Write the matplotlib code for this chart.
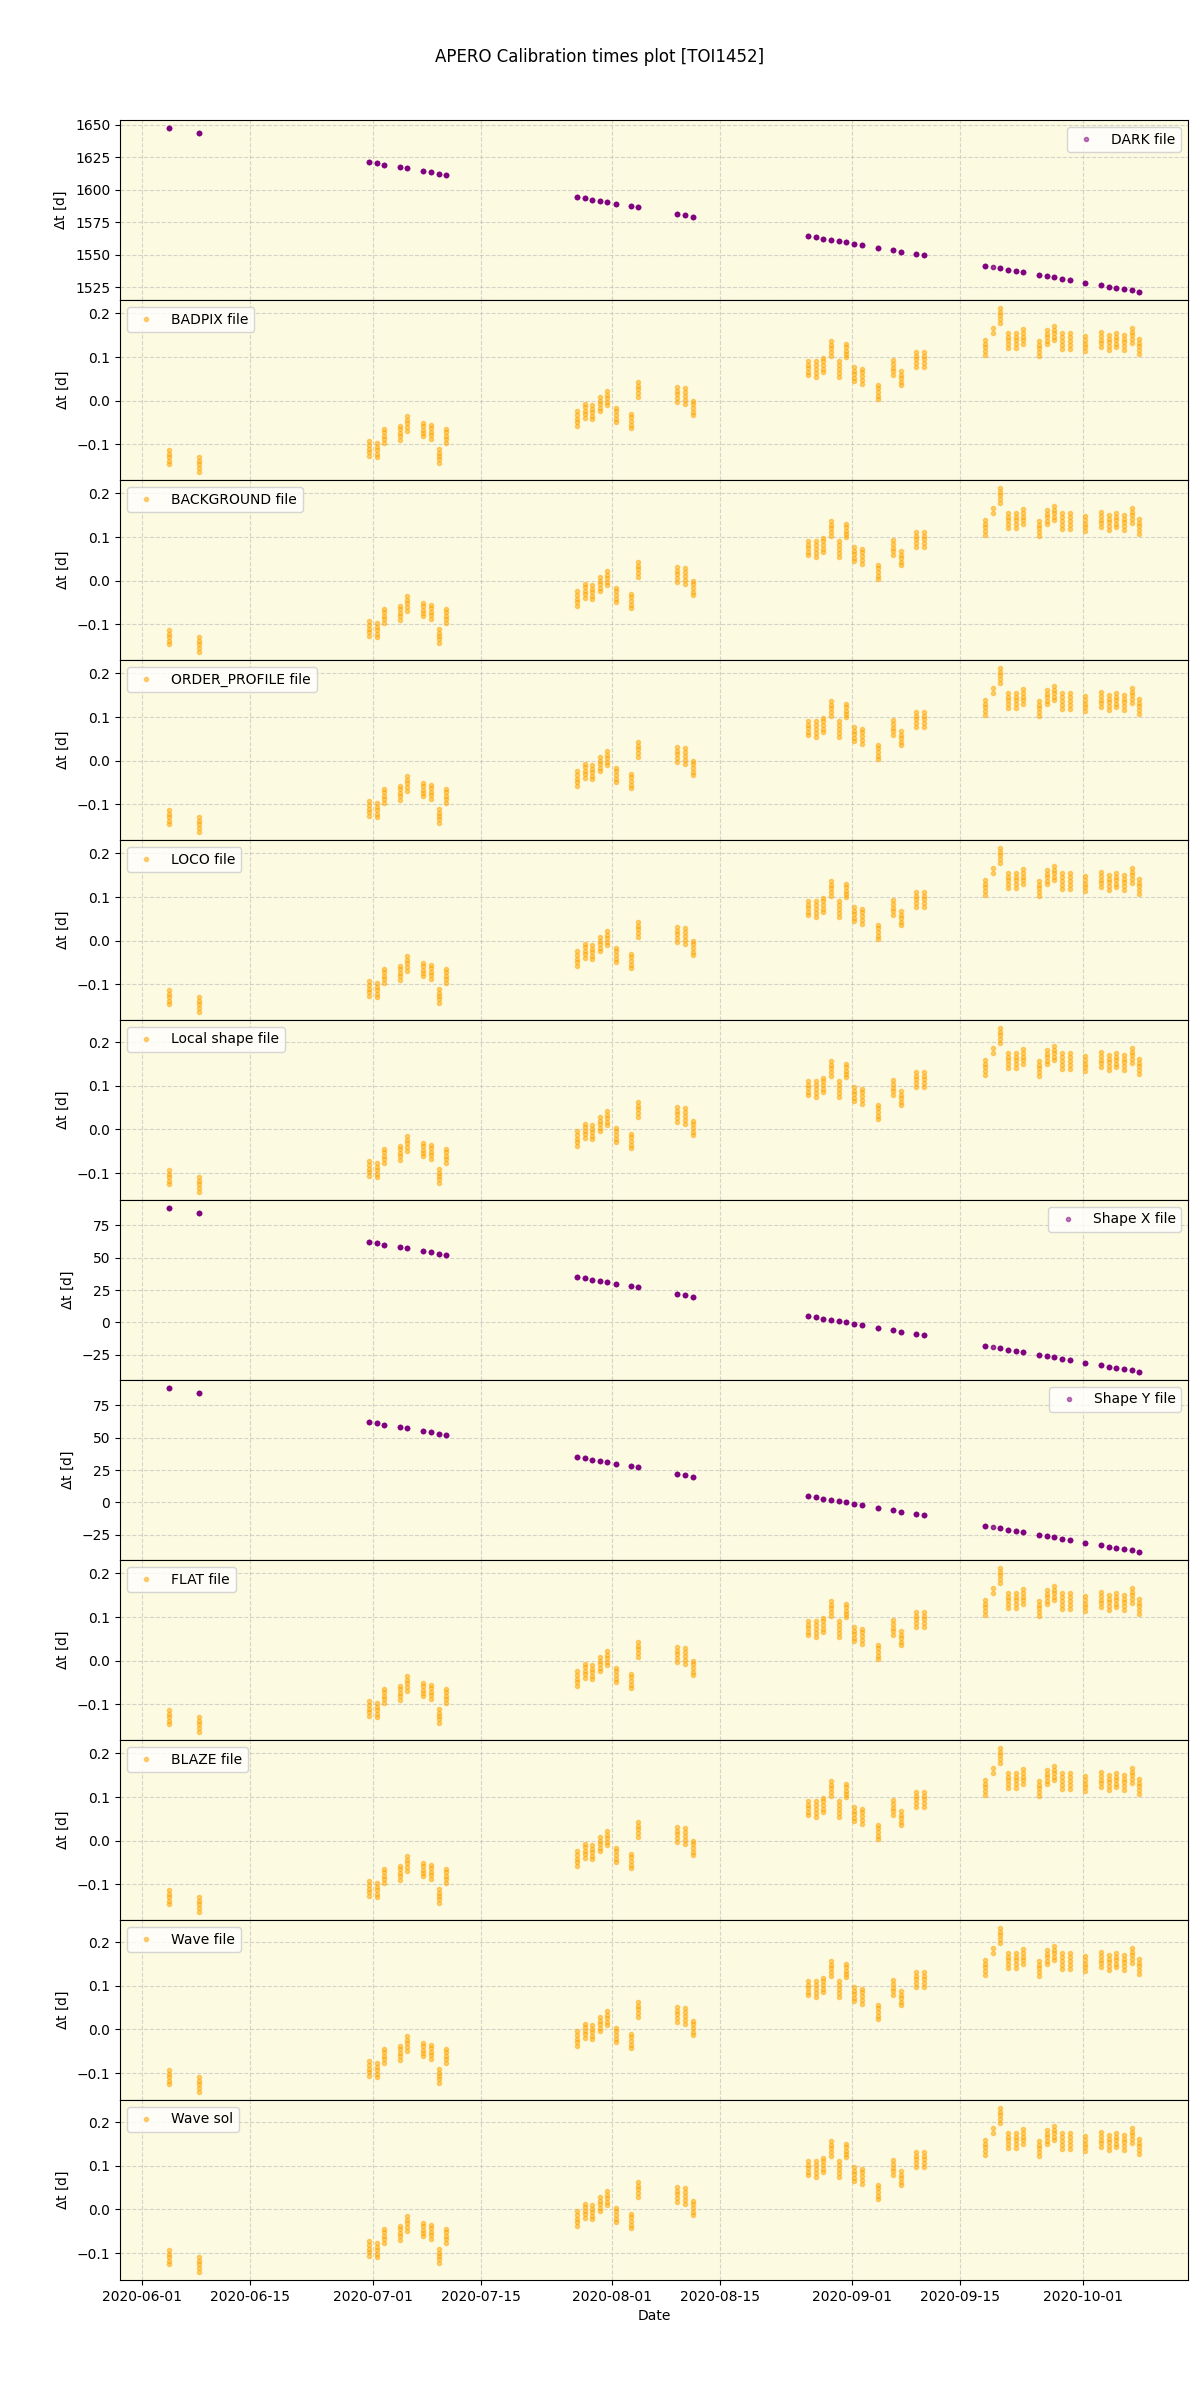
import pandas as pd
import matplotlib
matplotlib.use("Agg")
import matplotlib.pyplot as plt

# observing nights (UTC of the observations)
night_times = [
    "2020-06-04 11:45", "2020-06-08 12:00",
    "2020-06-30 10:20", "2020-07-01 11:15", "2020-07-02 10:05", "2020-07-04 10:50",
    "2020-07-05 08:40", "2020-07-07 10:20", "2020-07-08 11:15", "2020-07-09 12:00",
    "2020-07-10 09:50",
    "2020-07-27 09:35", "2020-07-28 10:50", "2020-07-29 08:25", "2020-07-30 09:35",
    "2020-07-31 08:25", "2020-08-01 11:15", "2020-08-03 09:35", "2020-08-04 07:40",
    "2020-08-09 09:10", "2020-08-10 09:35", "2020-08-11 10:50",
    "2020-08-26 08:55", "2020-08-27 07:55", "2020-08-28 07:25", "2020-08-29 06:30",
    "2020-08-30 09:20", "2020-08-31 07:10", "2020-09-01 07:55", "2020-09-02 08:55",
    "2020-09-04 10:50", "2020-09-06 09:35", "2020-09-07 10:20", "2020-09-09 09:35",
    "2020-09-10 07:55",
    "2020-09-18 07:55", "2020-09-19 08:40", "2020-09-20 06:30", "2020-09-21 07:10",
    "2020-09-22 08:10", "2020-09-23 06:00", "2020-09-25 07:55", "2020-09-26 08:55",
    "2020-09-27 06:30", "2020-09-28 07:25", "2020-09-29 08:25", "2020-10-01 07:10",
    "2020-10-03 08:55", "2020-10-04 07:55", "2020-10-05 07:40", "2020-10-06 08:25",
    "2020-10-07 07:25", "2020-10-08 07:10",
]

# dt to the (old) DARK file, one value per night
dark_dt = [
    1647.4, 1643.6,
    1621.3, 1620.5, 1619.0, 1617.5, 1616.7, 1614.4, 1613.6, 1612.1, 1611.3,
    1594.4, 1593.7, 1592.1, 1591.4, 1590.6, 1589.1, 1587.5, 1586.7, 1581.4, 1580.6, 1579.1,
    1564.5, 1563.7, 1562.2, 1561.4, 1560.6, 1559.9, 1558.3, 1557.5, 1555.2, 1553.7, 1552.2,
    1550.6, 1549.9,
    1541.4, 1540.6, 1539.9, 1538.3, 1537.6, 1536.8, 1534.5, 1533.7, 1532.9, 1531.4, 1530.6,
    1528.3, 1526.8, 1525.3, 1524.5, 1523.7, 1523.0, 1521.4,
]

# dt to the shape X / Y reference files, one value per night
shape_dt = [
    88.0, 84.2,
    62.0, 61.2, 59.7, 58.2, 57.4, 55.1, 54.3, 52.8, 52.0,
    35.2, 34.4, 32.8, 32.0, 31.3, 29.7, 28.2, 27.4, 22.1, 21.3, 19.7,
    5.1, 4.3, 2.8, 2.0, 1.2, 0.5, -1.1, -1.9, -4.2, -5.7, -7.2, -8.8, -9.5,
    -18.0, -18.8, -19.5, -21.1, -21.8, -22.6, -24.9, -25.7, -26.5, -28.0, -28.8,
    -31.1, -32.6, -34.1, -34.9, -35.7, -36.4, -38.0,
]

# dt of every observation to the nightly calibration (BADPIX, BACKGROUND, ...)
night_dt = [
    [-0.114, -0.122, -0.130, -0.138, -0.146],
    [-0.130, -0.138, -0.146, -0.155, -0.163],
    [-0.093, -0.101, -0.110, -0.118, -0.126],
    [-0.096, -0.105, -0.113, -0.122, -0.130],
    [-0.064, -0.072, -0.080, -0.088, -0.096],
    [-0.058, -0.066, -0.074, -0.081, -0.089],
    [-0.035, -0.044, -0.052, -0.061, -0.069],
    [-0.051, -0.059, -0.067, -0.074, -0.082],
    [-0.055, -0.063, -0.071, -0.079, -0.087],
    [-0.111, -0.119, -0.127, -0.134, -0.142],
    [-0.064, -0.072, -0.080, -0.088, -0.096],
    [-0.023, -0.032, -0.041, -0.049, -0.058],
    [-0.007, -0.015, -0.023, -0.031, -0.039],
    [-0.010, -0.018, -0.026, -0.034, -0.042],
    [0.008, 0.000, -0.008, -0.016, -0.024],
    [0.022, 0.014, 0.006, -0.003, -0.011],
    [-0.016, -0.024, -0.032, -0.041, -0.049],
    [-0.030, -0.038, -0.046, -0.055, -0.063],
    [0.043, 0.034, 0.026, 0.017, 0.008],
    [0.031, 0.023, 0.015, 0.006, -0.002],
    [0.029, 0.020, 0.011, 0.002, -0.007],
    [0.000, -0.008, -0.017, -0.025, -0.033],
    [0.090, 0.082, 0.074, 0.066, 0.058],
    [0.090, 0.081, 0.073, 0.064, 0.055],
    [0.098, 0.090, 0.082, 0.073, 0.065],
    [0.136, 0.128, 0.120, 0.111, 0.103],
    [0.090, 0.081, 0.073, 0.064, 0.055],
    [0.131, 0.123, 0.115, 0.107, 0.099],
    [0.077, 0.069, 0.061, 0.052, 0.044],
    [0.073, 0.065, 0.056, 0.048, 0.039],
    [0.036, 0.028, 0.020, 0.011, 0.003],
    [0.093, 0.084, 0.076, 0.067, 0.058],
    [0.068, 0.060, 0.052, 0.043, 0.035],
    [0.111, 0.103, 0.095, 0.086, 0.078],
    [0.111, 0.103, 0.095, 0.086, 0.078],
    [0.139, 0.131, 0.122, 0.114, 0.105],
    [0.166, 0.155],
    [0.212, 0.204, 0.196, 0.187, 0.179],
    [0.154, 0.146, 0.138, 0.129, 0.121],
    [0.154, 0.146, 0.138, 0.129, 0.121],
    [0.164, 0.155, 0.146, 0.138, 0.129],
    [0.136, 0.128, 0.120, 0.111, 0.103],
    [0.161, 0.153, 0.145, 0.137, 0.129],
    [0.171, 0.163, 0.154, 0.146, 0.138],
    [0.154, 0.145, 0.136, 0.128, 0.119],
    [0.154, 0.145, 0.136, 0.128, 0.119],
    [0.148, 0.140, 0.131, 0.123, 0.114],
    [0.157, 0.149, 0.140, 0.132, 0.124],
    [0.150, 0.142, 0.134, 0.125, 0.117],
    [0.155, 0.147, 0.138, 0.130, 0.122],
    [0.150, 0.142, 0.134, 0.125, 0.117],
    [0.166, 0.158, 0.150, 0.141, 0.133],
    [0.141, 0.133, 0.125, 0.116, 0.108],
]

# local shape / wave files were made a bit later in the night
local_offset = 0.02

panel_labels = ["DARK file", "BADPIX file", "BACKGROUND file", "ORDER_PROFILE file",
                "LOCO file", "Local shape file", "Shape X file", "Shape Y file",
                "FLAT file", "BLAZE file", "Wave file", "Wave sol"]
panel_kind = ["dark", "night", "night", "night", "night", "local", "shape", "shape",
              "night", "night", "local", "local"]

times = pd.to_datetime(night_times)

fig, axes = plt.subplots(12, 1, figsize=(12, 24), dpi=100, sharex=True)
fig.subplots_adjust(left=0.1, right=0.99, top=0.95, bottom=0.05, hspace=0)

for ax, label, kind in zip(axes, panel_labels, panel_kind):
    x = []
    y = []
    for i, t in enumerate(times):
        for v in night_dt[i]:
            x.append(t)
            if kind == "dark":
                y.append(dark_dt[i])
            elif kind == "shape":
                y.append(shape_dt[i])
            elif kind == "local":
                y.append(v + local_offset)
            else:
                y.append(v)
    if kind in ("dark", "shape"):
        color = "purple"
        loc = "upper right"
    else:
        color = "orange"
        loc = "upper left"
    ax.plot(x, y, ".", color=color, alpha=0.5, label=label)
    ax.set_facecolor("#fcfae1")
    ax.grid(True, linestyle="--", alpha=0.5)
    ax.set_ylabel(r"$\Delta$t [d]")
    ax.legend(loc=loc)

axes[-1].set_xlabel("Date")
fig.suptitle("APERO Calibration times plot [TOI1452]")

plt.savefig("out.png")
